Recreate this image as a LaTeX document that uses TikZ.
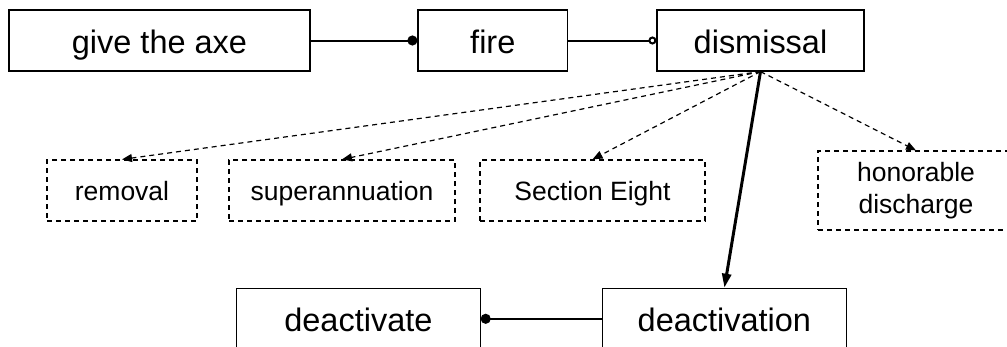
\documentclass[tikz,border=0pt]{standalone}
\usepackage{fontspec}
\setmainfont{Liberation Sans}
\usetikzlibrary{arrows.meta,shapes}

\begin{document}
\begin{tikzpicture}[
  term/.style={draw,line width=0.6pt,minimum height=30.5bp,inner sep=0pt,text height=12.5bp,text depth=0pt,font=\fontsize{16.3}{18}\selectfont},
  sense/.style={draw,dashed,dash pattern=on 2.5bp off 2bp,line width=0.6pt,minimum height=30.5bp,inner sep=0pt,text height=9.5bp,text depth=0pt,align=center,font=\fontsize{13.3}{16}\selectfont},
  link/.style={line width=1bp},
  hypo/.style={-{Triangle[length=5bp,width=4bp]},dashed,dash pattern=on 2.5bp off 2bp,line width=0.6pt},
  deriv/.style={-{Triangle[length=7bp,width=4.5bp]},line width=1.5pt}
]
\useasboundingbox (0bp,0bp) rectangle (503.5bp,-173.5bp);

\node (axe) at (79.75bp,-20.25bp)[term,minimum width=150.5bp] {give the axe};
\node (fire) at (246.4bp,-20.25bp)[term,minimum width=74.8bp] {fire};
\node (dismissal) at (380.25bp,-20.25bp)[term,minimum width=103.5bp] {dismissal};
\node (removal) at (61bp,-95.25bp)[sense,minimum width=75bp] {removal};
\node (superann) at (171bp,-95.25bp)[sense,minimum width=113bp] {superannuation};
\node (section) at (296.25bp,-95.25bp)[sense,minimum width=112.5bp] {Section Eight};
\node (honorable) at (458bp,-95.25bp)[sense,text height=,text depth=,minimum width=98bp,minimum height=39.5bp] {honorable\\discharge};
\node (deactivate) at (179.2bp,-159.4bp)[term,minimum width=121.7bp] {deactivate};
\node (deactivation) at (362.2bp,-159.4bp)[term,minimum width=121.7bp] {deactivation};

\draw [link,-{Circle[length=5bp]}] (axe) -- (fire);
\draw [link,-{Circle[open,length=4bp,line width=1bp]}] (fire) -- (dismissal);
\draw [hypo] (dismissal.south) -- (removal.north);
\draw [hypo] (dismissal.south) -- (superann.north);
\draw [hypo] (dismissal.south) -- (section.north);
\draw [hypo] (dismissal.south) -- (honorable.north);
\draw [deriv] (dismissal.south) -- (deactivation.north);
\draw [link,-{Circle[length=5bp]}] (deactivation) -- (deactivate);
\end{tikzpicture}
\end{document}
